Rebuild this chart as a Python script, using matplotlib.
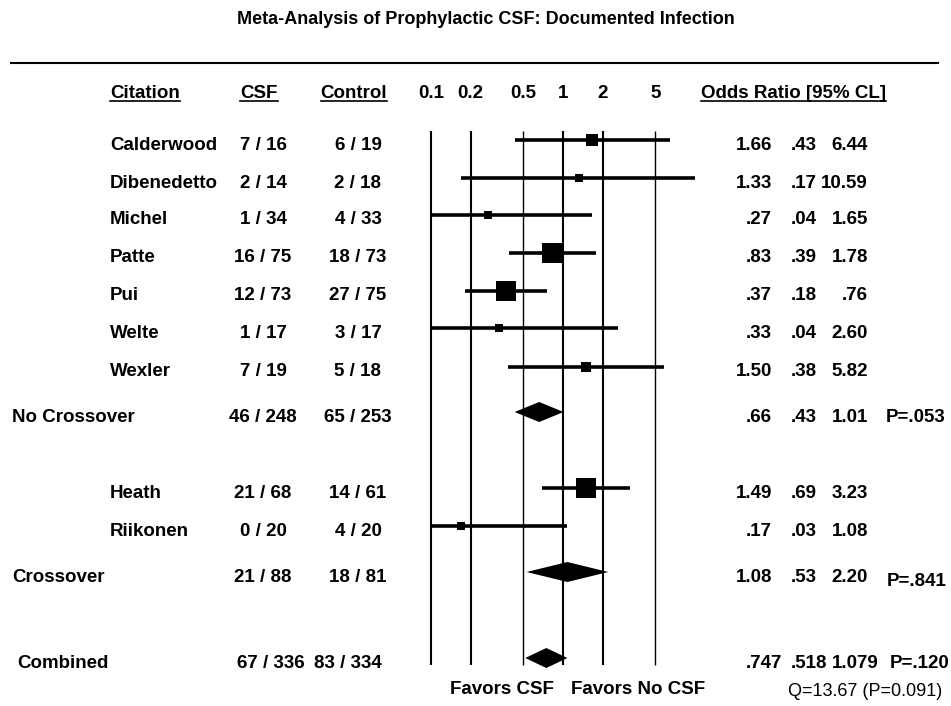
import numpy as np
import matplotlib
matplotlib.use("Agg")
import matplotlib.pyplot as plt

plt.rcParams['font.family'] = ['Liberation Sans', 'DejaVu Sans']
plt.rcParams['font.weight'] = 'bold'

# individual trials
studies = ["Calderwood", "Dibenedetto", "Michel", "Patte", "Pui", "Welte", "Wexler", "Heath", "Riikonen"]
csf_events = [7, 2, 1, 16, 12, 1, 7, 21, 0]
csf_total = [16, 14, 34, 75, 73, 17, 19, 68, 20]
ctl_events = [6, 2, 4, 18, 27, 3, 5, 14, 4]
ctl_total = [19, 18, 33, 73, 75, 17, 18, 61, 20]
odds = [1.66, 1.33, .27, .83, .37, .33, 1.50, 1.49, .17]
ci_low = [.43, .17, .04, .39, .18, .04, .38, .69, .03]
ci_high = [6.44, 10.59, 1.65, 1.78, .76, 2.60, 5.82, 3.23, 1.08]

# pooled results
groups = ["No Crossover", "Crossover", "Combined"]
grp_csf_events = [46, 21, 67]
grp_csf_total = [248, 88, 336]
grp_ctl_events = [65, 18, 83]
grp_ctl_total = [253, 81, 334]
grp_odds = [.66, 1.08, .747]
grp_low = [.43, .53, .518]
grp_high = [1.01, 2.20, 1.079]
grp_digits = [2, 2, 3]
grp_p = [".053", ".841", ".120"]

ticks = [0.1, 0.2, 0.5, 1, 2, 5]
q_stat, q_p = 13.67, 0.091

# layout (pixels, y measured from top)
W, H = 951, 706
study_y = [140, 178, 215, 253, 291, 328, 367, 488, 526]
group_y = [412, 572, 658]
FS = 13.5


def fmt(v, nd=2):
    s = f"{v:.{nd}f}"
    return s[1:] if s.startswith("0.") else s


def weight(a, n1, c, n2):
    b, d = n1 - a, n2 - c
    cells = np.array([a, b, c, d], dtype=float)
    if (cells == 0).any():
        cells += 0.5
    return 1.0 / np.sum(1.0 / cells)


fig = plt.figure(figsize=(W / 100, H / 100), dpi=100)
tax = fig.add_axes([0, 0, 1, 1])
tax.set_xlim(0, W)
tax.set_ylim(H, 0)
tax.axis('off')

fax = fig.add_axes([431 / W, 0, 264 / W, 1])
fax.set_xscale('log')
fax.set_xlim(0.1, 10)
fax.set_ylim(H, 0)
fax.axis('off')

tax.text(486, 20, "Meta-Analysis of Prophylactic CSF: Documented Infection",
         ha='center', va='center', fontsize=13)
tax.plot([11, 938], [63, 63], color='k', lw=1.5)

# column headers, underlined
heads = [tax.text(110, 98, "Citation", ha='left', va='baseline', fontsize=FS),
         tax.text(259, 98, "CSF", ha='center', va='baseline', fontsize=FS),
         tax.text(354, 98, "Control", ha='center', va='baseline', fontsize=FS),
         tax.text(701, 98, "Odds Ratio [95% CL]", ha='left', va='baseline', fontsize=FS)]
for t in ticks:
    fax.text(t, 98, f"{t:g}", ha='center', va='baseline', fontsize=FS)

# reference lines
fax.vlines(ticks, 131, 665, colors='k',
           linewidths=[1.5, 1.5, 1.0, 1.5, 1.5, 1.0], clip_on=False)

# trials
for i, name in enumerate(studies):
    y = study_y[i]
    ty = y + 5
    tax.text(110, ty, name, ha='left', va='center', fontsize=FS)
    tax.text(263, ty, f"{csf_events[i]} / {csf_total[i]}", ha='center', va='center', fontsize=FS)
    tax.text(358, ty, f"{ctl_events[i]} / {ctl_total[i]}", ha='center', va='center', fontsize=FS)
    tax.text(772, ty, fmt(odds[i]), ha='right', va='center', fontsize=FS)
    tax.text(817, ty, fmt(ci_low[i]), ha='right', va='center', fontsize=FS)
    tax.text(868, ty, fmt(ci_high[i]), ha='right', va='center', fontsize=FS)

    fax.plot([ci_low[i], ci_high[i]], [y, y], color='k', lw=2.6, solid_capstyle='butt')
    side = max(8.0, 7.8 * np.sqrt(weight(csf_events[i], csf_total[i], ctl_events[i], ctl_total[i])))
    fax.plot([odds[i]], [y], marker='s', ms=side * 0.72, color='k', mew=0, clip_on=False)

# pooled rows
grp_label_x = [12, 12, 17]
grp_csf_x = [263, 263, 271]
grp_ctl_x = [358, 358, 348]
grp_p_x = [886, 887, 890]
grp_p_dy = [0, 5, 0]
for i, g in enumerate(groups):
    y = group_y[i]
    ty = y + 5
    nd = grp_digits[i]
    tax.text(grp_label_x[i], ty, g, ha='left', va='center', fontsize=FS)
    tax.text(grp_csf_x[i], ty, f"{grp_csf_events[i]} / {grp_csf_total[i]}", ha='center', va='center', fontsize=FS)
    tax.text(grp_ctl_x[i], ty, f"{grp_ctl_events[i]} / {grp_ctl_total[i]}", ha='center', va='center', fontsize=FS)
    if nd == 3:
        # wider numbers: left-aligned on the column starts
        tax.text(746, ty, fmt(grp_odds[i], nd), ha='left', va='center', fontsize=FS)
        tax.text(791, ty, fmt(grp_low[i], nd), ha='left', va='center', fontsize=FS)
        tax.text(832, ty, fmt(grp_high[i], nd), ha='left', va='center', fontsize=FS)
    else:
        tax.text(772, ty, fmt(grp_odds[i], nd), ha='right', va='center', fontsize=FS)
        tax.text(817, ty, fmt(grp_low[i], nd), ha='right', va='center', fontsize=FS)
        tax.text(868, ty, fmt(grp_high[i], nd), ha='right', va='center', fontsize=FS)
    tax.text(grp_p_x[i], ty + grp_p_dy[i], "P=" + grp_p[i], ha='left', va='center', fontsize=FS)

    fax.fill([grp_low[i], grp_odds[i], grp_high[i], grp_odds[i]],
             [y, y - 10, y, y + 10], color='k', lw=0)

tax.text(554, 694, "Favors CSF", ha='right', va='baseline', fontsize=FS)
tax.text(571, 694, "Favors No CSF", ha='left', va='baseline', fontsize=FS)
tax.text(788, 692, f"Q={q_stat:.2f} (P={q_p:.3f})", ha='left', va='center',
         fontsize=13, fontweight='normal')

# underline the headers
fig.canvas.draw()
renderer = fig.canvas.get_renderer()
inv = tax.transData.inverted()
for h in heads:
    bb = h.get_window_extent(renderer)
    (x0, _), (x1, _) = inv.transform([(bb.x0, bb.y0), (bb.x1, bb.y1)])
    tax.plot([x0, x1], [101, 101], color='k', lw=1.2)

fig.savefig("out.png", dpi=100)
